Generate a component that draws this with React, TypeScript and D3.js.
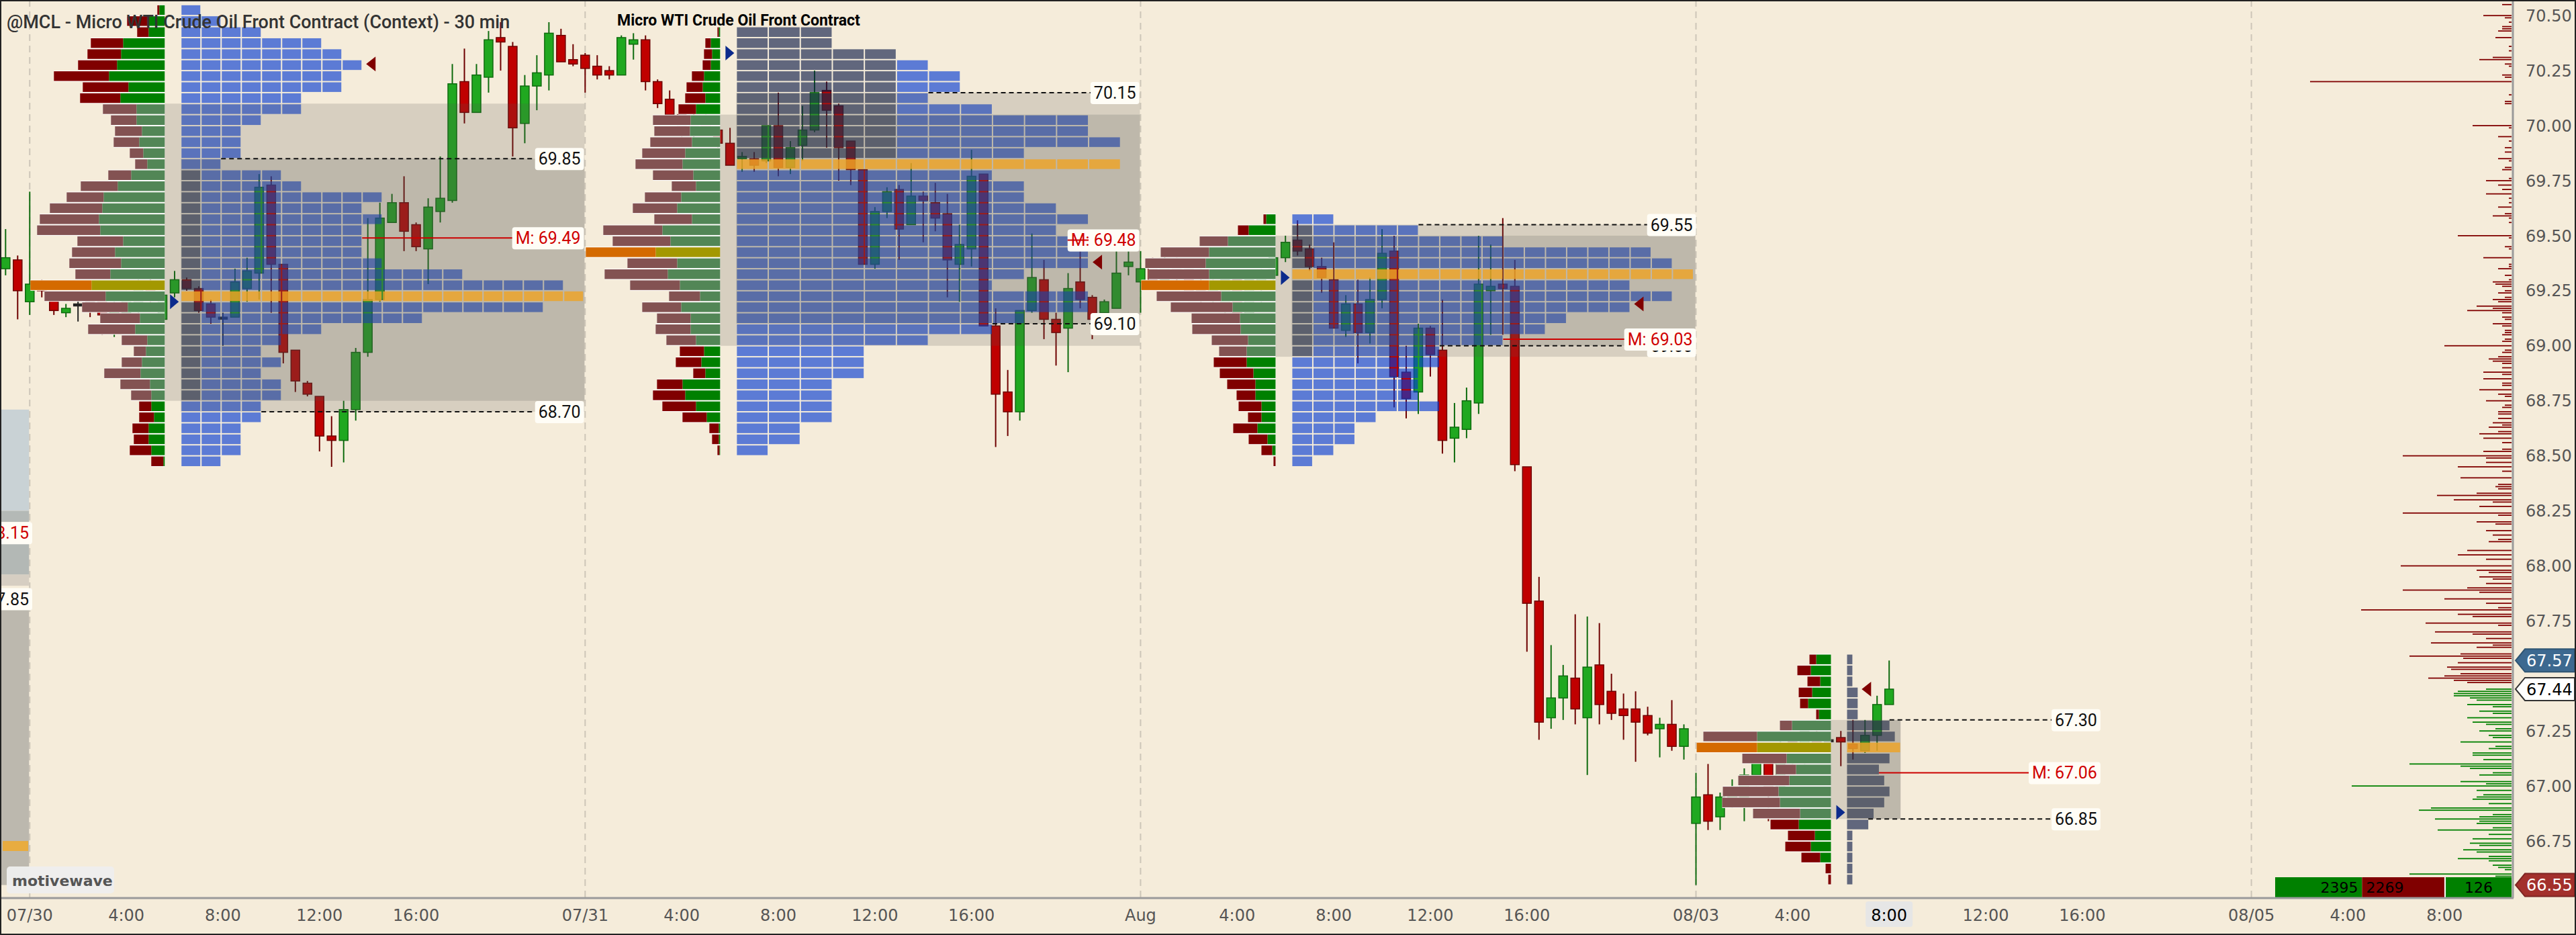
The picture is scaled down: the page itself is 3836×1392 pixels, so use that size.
import React, { useEffect, useRef } from 'react'
import * as d3 from 'd3'

const WIDTH = 3836
const HEIGHT = 1392
const FONT_UI = 'Roboto, "Noto Sans", sans-serif'
const FONT_AXIS = '"DejaVu Sans", Verdana, sans-serif'

// 30 min bars, [open, high, low, close]
const candles: [number, number, number, number][] = [
  [69.35, 69.53, 69.32, 69.40], [69.39, 69.41, 69.12, 69.25], [69.20, 69.70, 69.14, 69.28], [69.28, 69.30, 69.22, 69.25],
  [69.22, 69.24, 69.14, 69.16], [69.15, 69.19, 69.13, 69.17], [69.19, 69.21, 69.11, 69.19], [69.20, 69.24, 69.13, 69.16],
  [69.21, 69.23, 69.05, 69.14], [69.10, 69.20, 69.04, 69.18], [69.15, 69.25, 69.10, 69.22], [69.20, 69.30, 69.15, 69.26],
  [69.28, 69.32, 69.18, 69.22], [69.12, 69.25, 69.09, 69.23], [69.24, 69.34, 69.22, 69.30], [69.30, 69.31, 69.25, 69.26],
  [69.26, 69.27, 69.15, 69.16], [69.19, 69.21, 69.10, 69.13], [69.13, 69.15, 69.00, 69.13], [69.13, 69.35, 69.13, 69.29],
  [69.26, 69.40, 69.20, 69.34], [69.33, 69.78, 69.21, 69.72], [69.73, 69.77, 69.15, 69.37], [69.37, 69.37, 68.92, 68.97],
  [68.98, 68.98, 68.79, 68.84], [68.83, 68.84, 68.77, 68.78], [68.77, 68.77, 68.52, 68.59], [68.59, 68.68, 68.45, 68.57],
  [68.57, 68.75, 68.47, 68.71], [68.71, 68.99, 68.66, 68.97], [68.97, 69.58, 68.95, 69.21], [69.21, 69.65, 69.20, 69.58],
  [69.56, 69.69, 69.56, 69.65], [69.65, 69.77, 69.43, 69.52], [69.55, 69.56, 69.43, 69.45], [69.44, 69.67, 69.28, 69.63],
  [69.61, 69.86, 69.56, 69.67], [69.66, 70.28, 69.65, 70.19], [70.20, 70.35, 70.01, 70.06], [70.06, 70.28, 70.06, 70.23],
  [70.22, 70.43, 70.15, 70.39], [70.40, 70.47, 70.25, 70.38], [70.36, 70.38, 69.86, 69.99], [70.01, 70.23, 69.92, 70.18],
  [70.18, 70.32, 70.07, 70.24], [70.23, 70.47, 70.16, 70.42], [70.41, 70.44, 70.29, 70.29], [70.30, 70.37, 70.27, 70.28],
  [70.32, 70.33, 70.15, 70.26], [70.27, 70.32, 70.21, 70.23], [70.25, 70.27, 70.21, 70.23], [70.23, 70.41, 70.23, 70.40],
  [70.37, 70.42, 70.30, 70.39], [70.39, 70.41, 70.16, 70.20], [70.20, 70.21, 70.08, 70.10], [70.12, 70.16, 70.00, 70.05],
  [70.05, 70.08, 69.95, 69.98], [69.98, 70.06, 69.94, 70.03], [70.02, 70.05, 69.96, 69.99], [69.98, 69.99, 69.89, 69.92],
  [69.92, 69.99, 69.82, 69.82], [69.85, 69.88, 69.79, 69.86], [69.85, 69.88, 69.79, 69.82], [69.84, 70.00, 69.83, 70.00],
  [70.00, 70.15, 69.77, 69.81], [69.81, 69.93, 69.78, 69.90], [69.91, 70.09, 69.84, 69.98], [69.98, 70.25, 69.97, 70.15],
  [70.16, 70.20, 69.90, 70.07], [70.09, 70.10, 69.75, 69.90], [69.93, 69.93, 69.73, 69.80], [69.80, 69.80, 69.37, 69.37],
  [69.37, 69.63, 69.35, 69.61], [69.61, 69.72, 69.58, 69.70], [69.71, 69.73, 69.39, 69.53], [69.55, 69.83, 69.55, 69.68],
  [69.68, 69.70, 69.47, 69.66], [69.65, 69.74, 69.52, 69.58], [69.60, 69.69, 69.22, 69.39], [69.37, 69.55, 69.20, 69.46],
  [69.44, 69.89, 69.36, 69.77], [69.78, 69.78, 69.09, 69.09], [69.09, 69.17, 68.54, 68.78], [68.79, 68.89, 68.59, 68.70],
  [68.70, 69.16, 68.66, 69.16], [69.16, 69.51, 69.15, 69.31], [69.30, 69.39, 69.03, 69.12], [69.12, 69.15, 68.91, 69.06],
  [69.08, 69.33, 68.88, 69.26], [69.29, 69.43, 69.17, 69.21], [69.22, 69.23, 69.03, 69.12], [69.15, 69.21, 69.14, 69.20],
  [69.17, 69.43, 69.17, 69.33], [69.36, 69.43, 69.32, 69.38], [69.29, 69.43, 69.15, 69.35], [69.35, 69.40, 69.26, 69.30],
  [69.30, 69.42, 69.28, 69.38], [69.38, 69.40, 69.28, 69.33], [69.35, 69.37, 69.20, 69.22], [69.25, 69.35, 69.18, 69.21],
  [69.21, 69.30, 69.17, 69.27], [69.18, 69.31, 69.15, 69.30], [69.30, 69.31, 69.09, 69.12], [69.13, 69.32, 69.12, 69.30],
  [69.28, 69.37, 69.17, 69.34], [69.32, 69.43, 69.30, 69.40], [69.40, 69.50, 69.38, 69.47], [69.48, 69.57, 69.41, 69.43],
  [69.44, 69.46, 69.34, 69.36], [69.36, 69.40, 69.24, 69.31], [69.30, 69.47, 69.08, 69.08], [69.07, 69.23, 69.04, 69.19],
  [69.19, 69.30, 68.92, 69.06], [69.06, 69.31, 69.01, 69.21], [69.21, 69.53, 69.17, 69.42], [69.43, 69.50, 68.72, 68.86],
  [68.88, 69.00, 68.67, 68.76], [68.79, 69.10, 68.69, 69.08], [69.08, 69.09, 68.86, 68.96], [68.98, 69.21, 68.51, 68.57],
  [68.58, 68.74, 68.47, 68.63], [68.62, 68.81, 68.58, 68.75], [68.74, 69.50, 68.69, 69.28], [69.25, 69.46, 69.05, 69.27],
  [69.28, 69.58, 69.05, 69.26], [69.27, 69.39, 68.43, 68.46], [68.45, 68.45, 67.61, 67.83], [67.84, 67.95, 67.21, 67.29],
  [67.31, 67.64, 67.26, 67.40], [67.40, 67.55, 67.30, 67.50], [67.49, 67.78, 67.28, 67.35], [67.31, 67.77, 67.05, 67.54],
  [67.55, 67.74, 67.28, 67.37], [67.43, 67.51, 67.30, 67.33], [67.35, 67.42, 67.21, 67.32], [67.35, 67.43, 67.11, 67.29],
  [67.32, 67.36, 67.23, 67.24], [67.26, 67.31, 67.13, 67.28], [67.28, 67.39, 67.16, 67.18], [67.18, 67.28, 67.12, 67.26],
  [66.83, 67.06, 66.55, 66.95], [66.96, 67.10, 66.80, 66.84], [66.86, 66.97, 66.80, 66.95], [66.92, 67.03, 66.90, 66.99],
  [66.95, 67.08, 66.84, 67.05], [67.05, 67.14, 67.00, 67.11], [67.11, 67.14, 66.84, 66.99], [67.00, 67.21, 66.98, 67.19],
  [67.20, 67.23, 67.10, 67.13], [67.12, 67.27, 67.10, 67.25], [67.22, 67.25, 67.14, 67.16], [67.21, 67.23, 67.20, 67.21],
  [67.22, 67.25, 67.09, 67.20], [67.19, 67.30, 67.12, 67.17], [67.16, 67.30, 67.15, 67.23], [67.23, 67.41, 67.16, 67.37],
  [67.37, 67.57, 67.37, 67.44],
]

// bar index of each time label
const timeTicks: [number, string][] = [
  [2, '07/30'], [10, '4:00'], [18, '8:00'], [26, '12:00'], [34, '16:00'],
  [48, '07/31'], [56, '4:00'], [64, '8:00'], [72, '12:00'], [80, '16:00'],
  [94, 'Aug'], [102, '4:00'], [110, '8:00'], [118, '12:00'], [126, '16:00'],
  [140, '08/03'], [148, '4:00'], [156, '8:00'], [164, '12:00'], [172, '16:00'],
  [186, '08/05'], [194, '4:00'], [202, '8:00'],
]
const dayStarts = [2, 48, 94, 140, 186]
const cursorBar = 156
// 67.50 sits under the price tags, so it is left out
const priceTicks = [70.5, 70.25, 70.0, 69.75, 69.5, 69.25, 69.0, 68.75, 68.5, 68.25, 68.0, 67.75, 67.25, 67.0, 66.75]

// volume profile rows per session: [row low, sell volume, buy volume]
const volS1: [number, number, number][] = [
  [70.50, 3, 8], [70.45, 32, 24], [70.40, 17, 24], [70.35, 48, 62], [70.30, 50, 65], [70.25, 58, 71], [70.20, 82, 83],
  [70.15, 68, 54], [70.10, 60, 66], [70.05, 50, 42], [70.00, 38, 42], [69.95, 40, 34], [69.90, 38, 38], [69.85, 20, 32],
  [69.80, 18, 26], [69.75, 34, 50], [69.70, 55, 70], [69.65, 55, 91], [69.60, 78, 93], [69.55, 88, 98], [69.50, 94, 96],
  [69.45, 68, 62], [69.40, 64, 74], [69.35, 77, 65], [69.30, 52, 81], [69.25, 91, 109], [69.20, 91, 88], [69.15, 68, 55],
  [69.10, 59, 37], [69.05, 70, 44], [69.00, 38, 26], [68.95, 18, 28], [68.90, 30, 34], [68.85, 54, 36], [68.80, 44, 22],
  [68.75, 30, 20], [68.70, 18, 20], [68.65, 22, 16], [68.60, 24, 24], [68.55, 22, 24], [68.50, 32, 20], [68.45, 18, 2],
]
const volS2: [number, number, number][] = [
  [70.40, 2, 2], [70.35, 8, 14], [70.30, 12, 12], [70.25, 12, 14], [70.20, 18, 24], [70.15, 24, 26], [70.10, 30, 22],
  [70.05, 26, 36], [70.00, 56, 44], [69.95, 53, 45], [69.90, 62, 42], [69.85, 64, 52], [69.80, 70, 56], [69.75, 60, 40],
  [69.70, 36, 36], [69.65, 54, 58], [69.60, 66, 64], [69.55, 56, 42], [69.50, 88, 86], [69.45, 86, 74], [69.40, 104, 96],
  [69.35, 74, 64], [69.30, 94, 78], [69.25, 74, 60], [69.20, 46, 30], [69.15, 58, 58], [69.10, 50, 44], [69.05, 52, 44],
  [69.00, 44, 36], [68.95, 36, 24], [68.90, 38, 28], [68.85, 18, 22], [68.80, 38, 56], [68.75, 48, 52], [68.70, 50, 36],
  [68.65, 36, 20], [68.60, 14, 2], [68.55, 10, 2], [68.50, 3, 1],
]
const volS3: [number, number, number][] = [
  [69.55, 4, 14], [69.50, 16, 40], [69.45, 42, 71], [69.40, 72, 99], [69.35, 90, 104], [69.30, 90, 99], [69.25, 101, 99],
  [69.20, 96, 81], [69.15, 92, 64], [69.10, 72, 53], [69.05, 72, 52], [69.00, 54, 41], [68.95, 41, 43], [68.90, 49, 43],
  [68.85, 50, 33], [68.80, 42, 30], [68.75, 28, 30], [68.70, 34, 21], [68.65, 20, 21], [68.60, 36, 27], [68.55, 28, 12],
  [68.50, 16, 5], [68.45, 3, 0],
]
const volS4: [number, number, number][] = [
  [67.55, 10, 22], [67.50, 20, 30], [67.45, 19, 16], [67.40, 20, 28], [67.35, 12, 34], [67.30, 4, 18], [67.25, 18, 58],
  [67.20, 80, 110], [67.15, 90, 110], [67.10, 66, 66], [67.05, 30, 52], [67.00, 76, 62], [66.95, 83, 78], [66.90, 86, 76],
  [66.85, 70, 46], [66.80, 42, 48], [66.75, 40, 24], [66.70, 38, 30], [66.65, 28, 16], [66.60, 8, 0], [66.55, 4, 0],
]
// TPO counts, same rows as the volume profiles
const tpoS1 = [1, 2, 4, 7, 8, 9, 8, 8, 6, 6, 4, 3, 3, 3, 2, 5, 6, 10, 9, 10, 9, 9, 9, 10, 14, 19, 20, 18, 12, 7, 5, 4, 5, 4, 5, 5, 4, 4, 3, 3, 3, 2]
const tpoS2 = [3, 3, 5, 6, 7, 7, 6, 8, 11, 11, 12, 9, 12, 8, 9, 9, 10, 11, 10, 11, 11, 11, 9, 8, 11, 11, 9, 8, 6, 4, 4, 4, 3, 3, 3, 3, 2, 2, 1]
const tpoS3 = [2, 6, 10, 17, 18, 19, 16, 18, 16, 13, 12, 10, 7, 7, 6, 6, 6, 7, 4, 3, 3, 2, 1]
const tpoS4 = [1, 1, 1, 2, 2, 2, 8, 9, 10, 8, 6, 7, 8, 7, 5, 4, 1, 1, 1, 1, 1]

const sessionStart = [2, 48, 94, 140]
const sessionEnd = [47, 93, 139, 156]
const volVaHigh = [70.10, 70.05, 69.50, 67.30]
const volVaLow = [68.75, 69.00, 68.95, 66.85]
const tpoVaHigh = [69.85, 70.15, 69.55, 67.30]
const tpoVaLow = [68.70, 69.10, 69.00, 66.85]
const tpoPoc = [69.20, 69.80, 69.30, 67.15]
const midPrice = [69.49, 69.48, 69.03, 67.06]
const openPrice = [69.20, 70.33, 69.31, 66.88]
const closePrice = [70.28, 69.38, 69.19, 67.44]
const ibHigh = [69.80, 70.45, 69.55, 67.60]
const ibLow = [68.75, 69.80, 68.95, 66.55]

// previous session remnant at the left edge
const prevBands: [number, number][] = [[68.71, 68.25], [68.25, 68.20], [68.11, 67.96], [67.96, 67.91], [67.81, 66.55]]
const prevPoc = 66.70
const prevMid = 68.15
const prevVa = 67.85

// context volume at price (right panel)
const askHist: [number, number][] = [
  [70.55, 14], [70.50, 42], [70.49, 10], [70.47, 4], [70.45, 14], [70.44, 14], [70.43, 20], [70.40, 24], [70.36, 4], [70.34, 4],
  [70.31, 28], [70.30, 48], [70.28, 10], [70.27, 4], [70.23, 14], [70.22, 10], [70.20, 300], [70.14, 4], [70.11, 10], [70.10, 10],
  [70.00, 58], [69.99, 4], [69.95, 20], [69.93, 4], [69.90, 10], [69.88, 10], [69.85, 20], [69.84, 4], [69.81, 10], [69.80, 14],
  [69.76, 4], [69.75, 38], [69.73, 20], [69.71, 14], [69.69, 38], [69.67, 4], [69.65, 4], [69.63, 20], [69.60, 10], [69.59, 28],
  [69.58, 4], [69.56, 4], [69.50, 80], [69.49, 4], [69.45, 10], [69.44, 4], [69.40, 42], [69.37, 4], [69.36, 4], [69.35, 20],
  [69.32, 10], [69.30, 4], [69.29, 28], [69.28, 24], [69.27, 14], [69.25, 10], [69.24, 20], [69.22, 10], [69.21, 28], [69.20, 20],
  [69.18, 52], [69.17, 28], [69.16, 66], [69.15, 14], [69.13, 14], [69.12, 10], [69.10, 28], [69.09, 14], [69.07, 10], [69.06, 10],
  [69.05, 14], [69.03, 10], [69.02, 14], [69.00, 100], [68.98, 10], [68.97, 14], [68.95, 20], [68.94, 34], [68.93, 28], [68.92, 14],
  [68.90, 14], [68.88, 42], [68.87, 14], [68.85, 42], [68.83, 14], [68.82, 14], [68.80, 48], [68.78, 20], [68.77, 10], [68.75, 38],
  [68.73, 10], [68.72, 14], [68.70, 20], [68.69, 20], [68.67, 20], [68.65, 28], [68.64, 14], [68.63, 34], [68.61, 20], [68.60, 48],
  [68.58, 42], [68.56, 14], [68.53, 14], [68.52, 42], [68.50, 162], [68.49, 38], [68.47, 38], [68.45, 80], [68.43, 14], [68.40, 76],
  [68.37, 20], [68.36, 24], [68.35, 20], [68.33, 52], [68.32, 111], [68.30, 86], [68.29, 28], [68.27, 48], [68.24, 162], [68.23, 20],
  [68.20, 52], [68.19, 24], [68.16, 38], [68.14, 28], [68.12, 20], [68.11, 34], [68.07, 66], [68.05, 80], [68.03, 38], [68.00, 165],
  [67.98, 52], [67.97, 34], [67.95, 48], [67.94, 28], [67.92, 38], [67.90, 66], [67.89, 162], [67.88, 48], [67.85, 100], [67.83, 38],
  [67.81, 20], [67.80, 224], [67.78, 80], [67.77, 58], [67.74, 128], [67.73, 20], [67.70, 114], [67.69, 58], [67.67, 38], [67.65, 120],
  [67.64, 28], [67.63, 52], [67.60, 76], [67.59, 152], [67.58, 72], [67.56, 80], [67.54, 96], [67.53, 90], [67.51, 76], [67.50, 100],
  [67.49, 124], [67.48, 86], [67.47, 66],
]
const bidHist: [number, number][] = [
  [67.44, 38], [67.43, 80], [67.42, 86], [67.41, 86], [67.40, 62], [67.39, 52], [67.37, 66], [67.36, 28], [67.34, 48], [67.33, 28],
  [67.31, 66], [67.29, 58], [67.28, 38], [67.26, 24], [67.25, 48], [67.23, 34], [67.22, 28], [67.20, 76], [67.18, 24], [67.17, 34],
  [67.15, 58], [67.14, 58], [67.12, 42], [67.10, 152], [67.09, 76], [67.08, 62], [67.06, 28], [67.05, 48], [67.02, 76], [67.01, 38],
  [67.00, 238], [66.98, 52], [66.96, 42], [66.95, 52], [66.94, 58], [66.92, 34], [66.90, 120], [66.89, 138], [66.87, 28], [66.86, 48],
  [66.85, 114], [66.84, 48], [66.83, 52], [66.81, 28], [66.80, 110], [66.78, 34], [66.76, 58], [66.74, 62], [66.73, 48], [66.71, 72],
  [66.70, 52], [66.68, 34], [66.67, 80], [66.66, 34], [66.64, 28], [66.63, 20], [66.62, 10], [66.60, 152], [66.59, 24],
]
const buyVolume = 2395
const sellVolume = 2269
const lastPrice = 67.44
const highPrice = 67.57
const lowPrice = 66.55

const volumeRows = [volS1, volS2, volS3, volS4]
const tpoRows = [tpoS1, tpoS2, tpoS3, tpoS4]
const tpoCellWidth = [30, 47.7, 31.5, 7.9]
const labelEndBar = [47.9, 93.9, 140, 173.5]
const ibCols = [1, 5, 1, 1]

export default function App() {
  const svgRef = useRef<SVGSVGElement>(null)

  useEffect(() => {
    if (!svgRef.current) return
    document.body.style.margin = '0'
    const svg = d3.select(svgRef.current)
    svg.selectAll('*').remove()

    const plotRight = 3742
    const plotBottom = 1337
    const y = d3.scaleLinear().domain([70.5, 66.5]).range([23.2, 1334])
    const x = d3.scaleLinear().domain([0, 156]).range([8.3, 2813.2])
    const rowH = y(70.45) - y(70.5)
    const boxFill = 'rgb(85,83,80)'
    const boxOpacity = 0.19

    svg.append('rect').attr('width', WIDTH).attr('height', HEIGHT).attr('fill', '#f5ecda')

    svg.append('defs').append('clipPath').attr('id', 'plot')
      .append('rect').attr('x', 0).attr('y', 0).attr('width', plotRight).attr('height', plotBottom)
    const g = svg.append('g').attr('clip-path', 'url(#plot)')

    // day separators
    g.selectAll('.day').data(dayStarts).enter().append('line')
      .attr('x1', d => x(d)).attr('x2', d => x(d)).attr('y1', 0).attr('y2', plotBottom)
      .attr('stroke', '#cdc6b8').attr('stroke-width', 2).attr('stroke-dasharray', '10,7')

    // remnant of the previous session
    const prevFills = ['#c9d2d5', '#b4b9b6', '#b3b8b5', '#d6cec2', '#bcb8ae']
    prevBands.forEach((b, i) => {
      g.append('rect').attr('x', 0).attr('width', x(2) - 1).attr('y', y(b[0])).attr('height', y(b[1]) - y(b[0]))
        .attr('fill', prevFills[i])
    })
    g.append('rect').attr('x', 4).attr('width', 38).attr('y', y(prevPoc + 0.05)).attr('height', rowH - 1.5).attr('fill', '#e8ac40')

    // candles
    const cg = g.append('g')
    candles.forEach(([o, h, l, c], i) => {
      const cx = x(i)
      const up = c > o
      const flat = c === o
      const fill = flat ? '#222' : up ? '#20a820' : '#c00000'
      const edge = flat ? '#222' : up ? '#0e6b0e' : '#6e0000'
      cg.append('line').attr('x1', cx).attr('x2', cx).attr('y1', y(h)).attr('y2', y(l))
        .attr('stroke', edge).attr('stroke-width', 2)
      const top = y(Math.max(o, c))
      const bh = Math.max(3, y(Math.min(o, c)) - top)
      cg.append('rect').attr('x', cx - 6.5).attr('width', 13).attr('y', top).attr('height', bh)
        .attr('fill', fill).attr('stroke', edge).attr('stroke-width', 1.5)
    })

    const addLabel = (xr: number, yc: number, text: string, color: string) => {
      const t = g.append('text').attr('x', xr - 5).attr('y', yc).attr('dy', '0.36em')
        .attr('text-anchor', 'end').attr('font-family', FONT_UI).attr('font-size', 25)
        .attr('fill', color).text(text)
      const w = (t.node() as SVGTextElement).getComputedTextLength()
      g.insert('rect', () => t.node() as SVGTextElement)
        .attr('x', xr - w - 10).attr('y', yc - 16).attr('width', w + 10).attr('height', 33)
        .attr('rx', 4).attr('fill', '#fffdf6')
      return xr - w - 10
    }

    // session profiles
    volumeRows.forEach((rows, s) => {
      const start = x(sessionStart[s])
      const anchor = start + 201
      const tpoX = start + 225
      const cw = tpoCellWidth[s]
      const counts = tpoRows[s]
      const boxRight = x(sessionEnd[s]) + 17
      const maxTotal = d3.max(rows, r => r[1] + r[2]) as number
      const w = d3.scaleLinear().domain([0, maxTotal]).range([0, 200])
      const pocIdx = d3.maxIndex(rows, r => r[1] + r[2])
      const isTpoPoc = (p: number) => Math.abs(p - tpoPoc[s]) < 1e-6

      // bid / ask volume profile
      rows.forEach((r, i) => {
        const top = y(r[0] + 0.05)
        const inVa = r[0] >= volVaLow[s] - 1e-6 && r[0] < volVaHigh[s] - 1e-6
        const sellC = i === pocIdx ? '#d46a00' : inVa ? '#835252' : '#800000'
        const buyC = i === pocIdx ? '#a39800' : inVa ? '#528656' : '#008000'
        const bw = w(r[2])
        const sw = w(r[1])
        g.append('rect').attr('x', anchor - bw - sw).attr('width', bw + sw).attr('y', top).attr('height', rowH).attr('fill', '#fff')
        g.append('rect').attr('x', anchor - bw).attr('width', bw).attr('y', top + 1).attr('height', rowH - 2).attr('fill', buyC)
        g.append('rect').attr('x', anchor - bw - sw).attr('width', sw).attr('y', top + 1).attr('height', rowH - 2).attr('fill', sellC)
      })

      // TPO cells (translucent, drawn over the candles)
      const drawCells = (i: number, fill: string, opacity: number) => {
        const r = rows[i]
        const top = y(r[0] + 0.05)
        const inIb = r[0] >= ibLow[s] - 1e-6 && r[0] < ibHigh[s] - 1e-6
        if (cw >= 12) {
          for (let c = 0; c < counts[i]; c++) {
            const f = fill === 'tpo' ? (inIb && c < ibCols[s] ? 'rgb(12,28,72)' : 'rgb(5,60,210)') : fill
            g.append('rect').attr('x', tpoX + c * cw + 1).attr('width', cw - 2).attr('y', top + 1).attr('height', rowH - 2)
              .attr('fill', f).attr('fill-opacity', opacity)
          }
        } else {
          const f = fill === 'tpo' ? (inIb ? 'rgb(12,28,72)' : 'rgb(5,60,210)') : fill
          g.append('rect').attr('x', tpoX).attr('width', counts[i] * cw).attr('y', top + 1).attr('height', rowH - 2)
            .attr('fill', f).attr('fill-opacity', opacity)
        }
      }
      rows.forEach((r, i) => { if (!isTpoPoc(r[0])) drawCells(i, 'tpo', 0.64) })

      // value area boxes
      g.append('rect').attr('x', anchor).attr('width', boxRight - anchor)
        .attr('y', y(volVaHigh[s])).attr('height', y(volVaLow[s]) - y(volVaHigh[s]))
        .attr('fill', boxFill).attr('fill-opacity', boxOpacity)
      g.append('rect').attr('x', tpoX).attr('width', boxRight - tpoX)
        .attr('y', y(tpoVaHigh[s])).attr('height', y(tpoVaLow[s]) - y(tpoVaHigh[s]))
        .attr('fill', boxFill).attr('fill-opacity', boxOpacity)

      // TPO point of control row stays bright
      rows.forEach((r, i) => { if (isTpoPoc(r[0])) drawCells(i, 'rgb(238,164,38)', 0.82) })

      const rowEndBelow = (p: number) => {
        const i = rows.findIndex(r => Math.abs(r[0] - (p - 0.05)) < 1e-6)
        return tpoX + (i >= 0 ? counts[i] : 0) * cw
      }
      const rowEndAt = (p: number) => {
        const i = rows.findIndex(r => p >= r[0] - 1e-6 && p < r[0] + 0.05 - 1e-6)
        return tpoX + (i >= 0 ? counts[i] : 0) * cw
      }

      const labelRight = x(labelEndBar[s])
      ;[tpoVaHigh[s], tpoVaLow[s]].forEach(p => {
        const left = addLabel(labelRight, y(p), p.toFixed(2), '#111')
        g.append('line').attr('x1', rowEndBelow(p)).attr('x2', left).attr('y1', y(p)).attr('y2', y(p))
          .attr('stroke', '#111').attr('stroke-width', 2).attr('stroke-dasharray', '7,5')
      })
      const mLeft = addLabel(labelRight, y(midPrice[s]), `M: ${midPrice[s].toFixed(2)}`, '#d00000')
      g.append('line').attr('x1', rowEndAt(midPrice[s])).attr('x2', mLeft)
        .attr('y1', y(midPrice[s])).attr('y2', y(midPrice[s])).attr('stroke', '#cc0000').attr('stroke-width', 2)

      // open / close markers
      const yo = y(openPrice[s])
      g.append('path').attr('d', `M${tpoX - 16},${yo - 11}L${tpoX - 3},${yo}L${tpoX - 16},${yo + 11}Z`).attr('fill', '#0b2a8c')
      const yc = y(closePrice[s])
      const ce = rowEndAt(closePrice[s])
      g.append('path').attr('d', `M${ce + 20},${yc - 11}L${ce + 6},${yc}L${ce + 20},${yc + 11}Z`).attr('fill', '#800000')
    })

    // previous session labels, cut by the left edge as in the original
    addLabel(48, y(prevMid), `M: ${prevMid.toFixed(2)}`, '#d00000')
    addLabel(48, y(prevVa), prevVa.toFixed(2), '#111')

    // context volume at price
    const hw = d3.scaleLinear().domain([0, 300]).range([0, 300])
    const histRight = plotRight - 2
    g.selectAll('.ask').data(askHist).enter().append('rect')
      .attr('x', d => histRight - hw(d[1])).attr('width', d => hw(d[1]))
      .attr('y', d => y(d[0]) - 0.9).attr('height', 1.8).attr('fill', '#800000')
    g.selectAll('.bid').data(bidHist).enter().append('rect')
      .attr('x', d => histRight - hw(d[1])).attr('width', d => hw(d[1]))
      .attr('y', d => y(d[0]) - 0.9).attr('height', 1.8).attr('fill', '#008000')

    // volume totals box
    const vw = d3.scaleLinear().domain([0, buyVolume + sellVolume]).range([0, 252])
    const deltaW = 98
    const sellEnd = histRight - deltaW - 2
    const sellStart = sellEnd - vw(sellVolume)
    const buyStart = sellStart - vw(buyVolume)
    const boxTop = 1306
    const boxH = plotBottom - boxTop
    g.append('rect').attr('x', buyStart).attr('width', vw(buyVolume)).attr('y', boxTop).attr('height', boxH).attr('fill', '#008000')
    g.append('rect').attr('x', sellStart).attr('width', vw(sellVolume)).attr('y', boxTop).attr('height', boxH).attr('fill', '#800000')
    g.append('rect').attr('x', sellEnd).attr('width', 2).attr('y', boxTop).attr('height', boxH).attr('fill', '#fff')
    g.append('rect').attr('x', sellEnd + 2).attr('width', deltaW).attr('y', boxTop).attr('height', boxH).attr('fill', '#008000')
    const boxText = (xx: number, anchorPos: string, t: string) =>
      g.append('text').attr('x', xx).attr('y', boxTop + boxH / 2).attr('dy', '0.36em').attr('text-anchor', anchorPos)
        .attr('font-family', FONT_AXIS).attr('font-size', 22).attr('fill', '#000').text(t)
    boxText(sellStart - 6, 'end', String(buyVolume))
    boxText(sellStart + 6, 'start', String(sellVolume))
    boxText(sellEnd + 2 + deltaW / 2, 'middle', String(buyVolume - sellVolume))

    // axes
    svg.append('line').attr('x1', plotRight).attr('x2', plotRight).attr('y1', 0).attr('y2', plotBottom)
      .attr('stroke', '#9a9a9a').attr('stroke-width', 3)
    svg.append('line').attr('x1', 0).attr('x2', plotRight + 1).attr('y1', plotBottom).attr('y2', plotBottom)
      .attr('stroke', '#9a9a9a').attr('stroke-width', 3)

    svg.selectAll('.ptick').data(priceTicks).enter().append('text')
      .attr('x', 3761).attr('y', d => y(d)).attr('dy', '0.36em')
      .attr('font-family', FONT_AXIS).attr('font-size', 24).attr('fill', '#555')
      .text(d => d.toFixed(2))

    const tag = (p: number, fill: string, stroke: string, color: string) => {
      const yc = y(p)
      svg.append('path')
        .attr('d', `M3746,${yc}L3760,${yc - 17}H3834V${yc + 17}H3760Z`)
        .attr('fill', fill).attr('stroke', stroke).attr('stroke-width', 2)
      svg.append('text').attr('x', 3762).attr('y', yc).attr('dy', '0.36em')
        .attr('font-family', FONT_AXIS).attr('font-size', 24).attr('fill', color).text(p.toFixed(2))
    }
    tag(highPrice, '#3d6990', '#2f5573', '#fff')
    tag(lastPrice, '#ffffff', '#333', '#000')
    tag(lowPrice, '#a3302c', '#7d2422', '#fff')

    svg.append('rect').attr('x', x(cursorBar) - 35).attr('width', 70).attr('y', 1342).attr('height', 38)
      .attr('rx', 4).attr('fill', '#e6e6e6')
    svg.selectAll('.ttick').data(timeTicks).enter().append('text')
      .attr('x', d => x(d[0])).attr('y', 1362).attr('dy', '0.36em').attr('text-anchor', 'middle')
      .attr('font-family', FONT_AXIS).attr('font-size', 24)
      .attr('fill', d => (d[0] === cursorBar ? '#000' : '#555'))
      .text(d => d[1])

    // titles and watermark
    svg.append('text').attr('x', 10).attr('y', 42).attr('font-family', FONT_UI).attr('font-size', 27)
      .attr('font-weight', 500).attr('fill', '#333')
      .text('@MCL - Micro WTI Crude Oil Front Contract (Context) - 30 min')
    svg.append('text').attr('x', 919).attr('y', 38).attr('font-family', FONT_UI).attr('font-size', 23)
      .attr('font-weight', 700).attr('fill', '#000').text('Micro WTI Crude Oil Front Contract')
    svg.append('rect').attr('x', 10).attr('y', 1290).attr('width', 160).attr('height', 40).attr('rx', 5)
      .attr('fill', '#eeeeee').attr('fill-opacity', 0.95)
    svg.append('text').attr('x', 18).attr('y', 1319).attr('font-family', FONT_AXIS).attr('font-size', 22)
      .attr('font-weight', 700).attr('fill', '#555').text('motivewave')

    svg.append('rect').attr('x', 1).attr('y', 1).attr('width', WIDTH - 2).attr('height', HEIGHT - 2)
      .attr('fill', 'none').attr('stroke', '#222').attr('stroke-width', 2)
  }, [])

  return <svg ref={svgRef} width={WIDTH} height={HEIGHT} style={{ display: 'block' }} />
}
